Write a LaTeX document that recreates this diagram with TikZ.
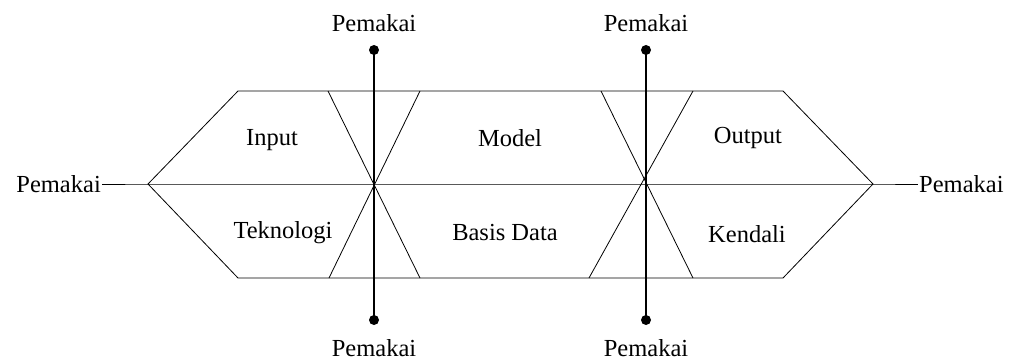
\documentclass[tikz,border=0pt]{standalone}
\usepackage{fontspec}
\setmainfont{Liberation Serif}
\begin{document}
\begin{tikzpicture}[x=1pt,y=-1pt,
  edge/.style={line width=0.8pt,black},
  pole/.style={line width=1.3pt,black},
  lbl/.style={font=\fontsize{24.5}{28}\selectfont,inner sep=1pt},
  dot/.style={circle,fill=black,inner sep=0pt,minimum size=10pt}]
\useasboundingbox (0,0) rectangle (1012,361);
% hexagon vertices
\coordinate (L) at (148,184);
\coordinate (TL) at (238,91);
\coordinate (TR) at (783,91);
\coordinate (R) at (873,184);
\coordinate (BR) at (783,278);
\coordinate (BL) at (238,278);
\draw[edge] (L) -- (TL) -- (TR) -- (R) -- (BR) -- (BL) -- cycle;
% X crossings
\coordinate (c1) at (374,184);
\coordinate (c2) at (646,184);
\draw[edge] (328,91) -- (420,278);
\draw[edge] (420,91) -- (329,278);
\draw[edge] (601,91) -- (693,278);
\draw[edge] (693,91) -- (589,278);
% horizontal axis with side users
\node[lbl,anchor=east] (pl) at (102,184) {Pemakai};
\node[lbl,anchor=west] (pr) at (918,184) {Pemakai};
\draw[edge] (pl.east) -- (L) -- (R) -- (pr.west);
% vertical poles
\node[dot] (d1t) at (374,50) {};
\node[dot] (d1b) at (374,320) {};
\node[dot] (d2t) at (646,50) {};
\node[dot] (d2b) at (646,320) {};
\draw[pole] (d1t.center) -- (d1b.center);
\draw[pole] (d2t.center) -- (d2b.center);
\node[lbl] (u1t) at (374,23) {Pemakai};
\node[lbl] (u2t) at (646,23) {Pemakai};
\node[lbl] (u1b) at (374,348) {Pemakai};
\node[lbl] (u2b) at (646,348) {Pemakai};
% region labels
\node[lbl] (input) at (272,140) {Input};
\node[lbl] (model) at (510,138) {Model};
\node[lbl] (output) at (748,138) {Output};
\node[lbl] (tek) at (283,233) {Teknologi};
\node[lbl] (bd) at (505,233) {Basis Data};
\node[lbl] (ken) at (747,234) {Kendali};
\end{tikzpicture}
\end{document}
